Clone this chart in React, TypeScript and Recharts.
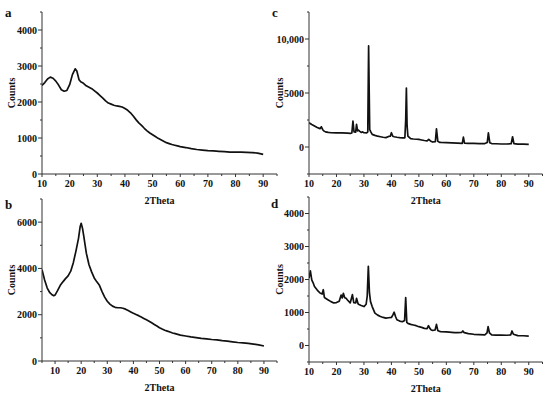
import React from "react"
import { LineChart, Line, XAxis, YAxis } from "recharts"

// panel a
const thetaA = [10, 11, 12, 13, 14, 15, 16, 17, 18, 19, 20, 21, 22, 22.6, 23.4, 24, 25, 26, 27, 28, 29, 30, 31, 32, 33, 34, 35, 36, 37, 38, 39, 40, 41, 42, 43, 44, 45, 46, 47, 48, 49, 50, 51, 52, 53, 54, 55, 56, 57, 58, 59, 60, 62, 64, 66, 68, 70, 72, 74, 76, 78, 80, 82, 84, 86, 88, 90]
const countsA = [2460, 2540, 2640, 2690, 2660, 2580, 2470, 2340, 2300, 2320, 2480, 2760, 2920, 2860, 2620, 2560, 2520, 2450, 2410, 2370, 2310, 2250, 2180, 2110, 2030, 1970, 1940, 1910, 1890, 1880, 1860, 1820, 1770, 1700, 1610, 1510, 1420, 1350, 1270, 1200, 1140, 1090, 1040, 990, 950, 910, 870, 845, 820, 800, 780, 760, 735, 705, 680, 665, 650, 640, 630, 620, 610, 605, 605, 600, 595, 580, 545]

// panel b
const thetaB = [5, 6, 7, 8, 9, 9.5, 10, 11, 12, 13, 14, 15, 16, 17, 18, 19, 19.6, 20, 20.5, 21, 21.5, 22, 23, 24, 25, 26, 27, 28, 29, 30, 31, 32, 33, 34, 35, 36, 37, 38, 39, 40, 41, 42, 43, 44, 45, 46, 47, 48, 49, 50, 51, 52, 53, 54, 55, 56, 57, 58, 60, 62, 64, 66, 68, 70, 72, 74, 76, 78, 80, 82, 84, 86, 88, 90]
const countsB = [3950, 3500, 3150, 2950, 2850, 2820, 2850, 3050, 3270, 3420, 3560, 3680, 3880, 4250, 4750, 5310, 5800, 5950, 5740, 5400, 5020, 4650, 4160, 3850, 3590, 3420, 3270, 3000, 2760, 2580, 2460, 2370, 2320, 2300, 2300, 2280, 2240, 2180, 2120, 2060, 2010, 1960, 1900, 1840, 1780, 1720, 1650, 1580, 1510, 1440, 1380, 1330, 1290, 1250, 1210, 1180, 1150, 1120, 1080, 1040, 1010, 980, 960, 930, 910, 880, 860, 830, 800, 780, 760, 730, 700, 650]

// panel c
const thetaC = [10, 11, 12, 13, 14, 14.5, 15, 15.5, 16, 17, 18, 20, 22, 24, 25, 25.6, 26, 26.4, 27, 27.3, 27.7, 28, 28.5, 29, 29.5, 30, 31, 31.4, 31.7, 32.1, 32.5, 33, 34, 35, 36, 37, 38, 39, 39.6, 40, 40.5, 41, 42, 43, 44, 44.9, 45.2, 45.45, 45.7, 46, 47, 48, 49, 50, 51, 52, 53, 53.6, 54.2, 55, 56, 56.4, 56.9, 57.5, 58, 60, 62, 64, 65.8, 66.2, 66.6, 68, 70, 72, 74, 74.9, 75.3, 75.8, 76.5, 78, 80, 82, 83.6, 84.1, 84.6, 86, 88, 90]
const countsC = [2240, 2080, 1940, 1800, 1700, 1870, 1600, 1470, 1400, 1350, 1320, 1300, 1310, 1280, 1260, 1300, 2390, 1400, 1380, 2090, 1500, 1560, 1450, 1350, 1400, 1320, 1310, 1400, 9360, 1600, 1400, 1170, 1080, 1000, 950, 900, 870, 980, 1000, 1320, 1000, 950, 900, 860, 850, 850, 2500, 5460, 2000, 1010, 770, 740, 720, 700, 650, 600, 560, 700, 560, 460, 500, 1690, 520, 430, 420, 400, 380, 360, 340, 920, 360, 340, 330, 320, 320, 420, 1320, 400, 320, 300, 280, 280, 300, 950, 320, 270, 260, 245]

// panel d
const thetaD = [10, 10.5, 11, 11.5, 12, 13, 14, 14.8, 15.2, 15.6, 16, 17, 18, 19, 20, 21, 21.7, 22.1, 22.5, 23, 23.5, 24, 25, 25.8, 26.3, 27, 27.3, 27.8, 28, 29, 30, 30.8, 31.2, 31.6, 32, 32.4, 33, 34, 35, 36, 37, 38, 39, 40, 40.5, 41, 41.5, 42, 43, 44, 44.8, 45.2, 45.6, 46, 47, 48, 49, 50, 51, 52, 53, 53.5, 54, 54.5, 55, 55.9, 56.4, 56.9, 57.5, 58, 60, 62, 63, 64, 65.6, 66, 66.5, 68, 70, 72, 74, 74.8, 75.2, 75.7, 76.5, 78, 80, 82, 83.4, 83.9, 84.4, 86, 88, 90]
const countsD = [2040, 2264, 1990, 1900, 1790, 1680, 1590, 1560, 1690, 1460, 1430, 1380, 1330, 1290, 1300, 1340, 1530, 1440, 1580, 1450, 1430, 1380, 1290, 1540, 1300, 1290, 1430, 1280, 1250, 1210, 1180, 1250, 1500, 2400, 1600, 1330, 1180, 980, 920, 880, 850, 830, 840, 850, 920, 1010, 880, 780, 740, 720, 760, 1450, 700, 670, 640, 620, 600, 570, 550, 520, 510, 600, 520, 470, 460, 470, 640, 450, 430, 420, 410, 400, 390, 390, 400, 440, 390, 360, 340, 330, 320, 380, 570, 380, 320, 315, 315, 310, 320, 440, 340, 300, 295, 284]

const xMajor = [10, 20, 30, 40, 50, 60, 70, 80, 90]
const xTicksA = [10, 15, 20, 25, 30, 35, 40, 45, 50, 55, 60, 65, 70, 75, 80, 85, 90, 95]
const xTicksB = [5, ...xTicksA]
const yMajorA = [0, 1000, 2000, 3000, 4000]
const yTicksA = [0, 500, 1000, 1500, 2000, 2500, 3000, 3500, 4000, 4500]
const yMajorB = [0, 2000, 4000, 6000]
const yTicksB = [0, 1000, 2000, 3000, 4000, 5000, 6000, 7000]
const yMajorC = [0, 5000, 10000]
const yTicksC = [-2500, 0, 2500, 5000, 7500, 10000, 12500]
const yMajorD = [0, 1000, 2000, 3000, 4000]
const yTicksD = [-500, 0, 500, 1000, 1500, 2000, 2500, 3000, 3500, 4000, 4500]

const font = "'Liberation Serif', 'Times New Roman', serif"
const ink = "#333"
const tickText = { fontFamily: font, fontWeight: 700, fontSize: 10, fill: "#111" }

const fmt = (v: number) => (v >= 10000 ? v.toLocaleString("en-US") : String(v))

const xTick = (majors: number[]) => (props: any) => {
  const { x, y, payload } = props
  const major = majors.includes(payload.value)
  return (
    <g>
      <line x1={x} y1={y} x2={x} y2={y + (major ? 3 : 2)} stroke={ink} />
      {major && (
        <text x={x} y={y + 13} textAnchor="middle" style={tickText}>
          {payload.value}
        </text>
      )}
    </g>
  )
}

const yTick = (majors: number[]) => (props: any) => {
  const { x, y, payload } = props
  const major = majors.includes(payload.value)
  return (
    <g>
      <line x1={x} y1={y} x2={x - (major ? 4 : 2)} y2={y} stroke={ink} />
      {major && (
        <text x={x - 5} y={y + 3.5} textAnchor="end" style={tickText}>
          {fmt(payload.value)}
        </text>
      )}
    </g>
  )
}

const countsTitle = (props: any) => {
  const vb = props.viewBox || {}
  const cx = vb.x + 11
  const cy = vb.y + vb.height / 2
  return (
    <text x={cx} y={cy} transform={`rotate(-90 ${cx} ${cy})`} textAnchor="middle" dominantBaseline="central" style={tickText}>
      Counts
    </text>
  )
}

const thetaTitle = (props: any) => {
  const vb = props.viewBox || {}
  return (
    <text x={vb.x + vb.width / 2} y={vb.y + 30} textAnchor="middle" style={tickText}>
      2Theta
    </text>
  )
}

interface PanelProps {
  theta: number[]
  counts: number[]
  left: number
  top: number
  width: number
  margin: { top: number; right: number; left: number; bottom: number }
  yAxisWidth: number
  xAxisHeight: number
  xDomain: [number, number]
  xTicks: number[]
  yDomain: [number, number]
  yTicks: number[]
  yMajor: number[]
}

function Panel(p: PanelProps) {
  const data = p.theta.map((t, i) => ({ t, v: p.counts[i] }))
  return (
    <div style={{ position: "absolute", left: p.left, top: p.top }}>
      <LineChart width={p.width} height={210} data={data} margin={p.margin}>
        <XAxis
          type="number"
          dataKey="t"
          domain={p.xDomain}
          ticks={p.xTicks}
          interval={0}
          allowDataOverflow
          height={p.xAxisHeight}
          tickSize={0}
          tickMargin={0}
          tickLine={false}
          tick={xTick(xMajor)}
          axisLine={{ stroke: ink }}
          label={thetaTitle}
        />
        <YAxis
          type="number"
          domain={p.yDomain}
          ticks={p.yTicks}
          interval={0}
          allowDataOverflow
          width={p.yAxisWidth}
          tickSize={0}
          tickMargin={0}
          tickLine={false}
          tick={yTick(p.yMajor)}
          axisLine={{ stroke: ink }}
          label={countsTitle}
        />
        <Line type="linear" dataKey="v" stroke="#111" strokeWidth={1.7} strokeLinejoin="round" dot={false} isAnimationActive={false} />
      </LineChart>
    </div>
  )
}

const letterStyle = { fontFamily: font, fontWeight: 700, fontSize: 13, fill: "#111" }

export default function App() {
  return (
    <div style={{ position: "absolute", left: 0, top: 0, width: 550, height: 396, background: "#fff", overflow: "hidden" }}>
      <Panel theta={thetaA} counts={countsA} left={0} top={0} width={290} margin={{ top: 12, right: 13, left: 0, bottom: 0 }} yAxisWidth={42} xAxisHeight={36} xDomain={[10, 95]} xTicks={xTicksA} yDomain={[0, 4500]} yTicks={yTicksA} yMajor={yMajorA} />
      <Panel theta={thetaB} counts={countsB} left={0} top={186} width={290} margin={{ top: 13, right: 13, left: 0, bottom: 0 }} yAxisWidth={42} xAxisHeight={35} xDomain={[5, 95]} xTicks={xTicksB} yDomain={[0, 7000]} yTicks={yTicksB} yMajor={yMajorB} />
      <Panel theta={thetaC} counts={countsC} left={268} top={0} width={282} margin={{ top: 12, right: 7.5, left: 0, bottom: 0 }} yAxisWidth={41} xAxisHeight={36} xDomain={[10, 95]} xTicks={xTicksA} yDomain={[-2500, 12500]} yTicks={yTicksC} yMajor={yMajorC} />
      <Panel theta={thetaD} counts={countsD} left={268} top={186} width={282} margin={{ top: 11, right: 7.5, left: 0, bottom: 0 }} yAxisWidth={41} xAxisHeight={34} xDomain={[10, 95]} xTicks={xTicksA} yDomain={[-500, 4500]} yTicks={yTicksD} yMajor={yMajorD} />
      <svg width={550} height={396} style={{ position: "absolute", left: 0, top: 0, pointerEvents: "none" }}>
        <text x={5} y={17} style={letterStyle}>a</text>
        <text x={5} y={209} style={letterStyle}>b</text>
        <text x={272} y={17} style={letterStyle}>c</text>
        <text x={271} y={208} style={letterStyle}>d</text>
      </svg>
    </div>
  )
}
